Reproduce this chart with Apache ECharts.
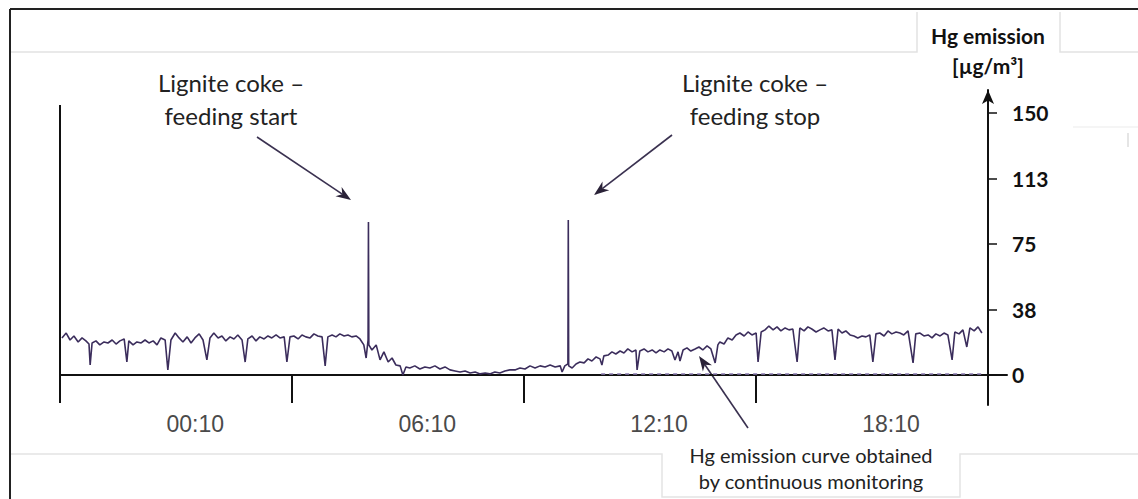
<!DOCTYPE html>
<html><head><meta charset="utf-8">
<script src="https://cdn.jsdelivr.net/npm/echarts@6/dist/echarts.min.js"></script>
<style>html,body{margin:0;padding:0;background:#fff}#c{width:1138px;height:499px}</style>
</head><body><div id="c"></div>
<script>
// Hg emission readings: [hours relative to 00:10, µg/m³]
const hgReadings = [[-3.45,21.2],[-3.34,24.0],[-3.24,20.0],[-3.14,22.3],[-3.03,18.9],[-2.93,21.2],[-2.83,19.5],[-2.75,17.7],[-2.72,5.7],[-2.67,18.3],[-2.57,19.5],[-2.47,17.2],[-2.36,18.9],[-2.26,18.3],[-2.15,20.0],[-2.05,17.7],[-1.95,19.5],[-1.84,20.6],[-1.77,7.4],[-1.72,19.5],[-1.61,17.2],[-1.51,18.9],[-1.40,18.3],[-1.30,20.0],[-1.20,18.3],[-1.09,19.5],[-0.99,17.2],[-0.89,21.2],[-0.78,20.0],[-0.71,2.9],[-0.63,20.0],[-0.52,24.0],[-0.42,21.2],[-0.32,18.9],[-0.21,21.8],[-0.11,18.3],[-0.01,21.2],[0.10,23.5],[0.20,20.0],[0.30,8.6],[0.38,21.2],[0.48,24.0],[0.59,21.2],[0.69,22.3],[0.79,19.5],[0.90,21.8],[1.00,20.6],[1.10,22.9],[1.21,20.0],[1.29,7.4],[1.36,20.6],[1.47,22.3],[1.57,19.5],[1.67,21.8],[1.78,20.6],[1.88,22.3],[1.98,21.2],[2.09,22.9],[2.19,21.2],[2.30,21.8],[2.37,7.4],[2.45,21.8],[2.55,22.3],[2.66,20.6],[2.76,22.9],[2.86,21.8],[2.97,21.2],[3.07,23.5],[3.17,22.3],[3.28,21.8],[3.36,5.2],[3.43,21.8],[3.54,22.9],[3.64,21.8],[3.74,23.5],[3.85,22.3],[3.95,22.9],[4.05,21.8],[4.16,22.3],[4.26,20.6],[4.36,17.2],[4.42,9.7],[4.47,20.0],[4.48,87.6],[4.49,17.2],[4.57,14.3],[4.68,17.2],[4.78,8.6],[4.88,13.2],[4.99,7.4],[5.09,9.7],[5.19,5.7],[5.30,5.2],[5.37,0],[5.45,4.6],[5.55,4.0],[5.68,5.2],[5.81,3.4],[5.94,4.6],[6.07,4.0],[6.20,5.2],[6.33,3.4],[6.46,4.6],[6.59,2.9],[6.72,2.3],[6.85,1.7],[6.98,2.3],[7.11,1.1],[7.24,1.7],[7.37,0.6],[7.50,1.1],[7.62,0.6],[7.75,1.7],[7.88,1.1],[8.01,2.3],[8.14,2.9],[8.27,2.9],[8.40,4.0],[8.53,3.4],[8.66,5.2],[8.79,4.0],[8.92,5.2],[9.05,4.6],[9.18,5.7],[9.31,4.6],[9.44,5.2],[9.49,1.7],[9.56,5.2],[9.64,6.3],[9.65,88.7],[9.66,5.2],[9.75,4.0],[9.85,6.3],[9.95,7.4],[10.06,6.9],[10.16,9.2],[10.26,8.0],[10.37,10.3],[10.47,9.2],[10.52,5.7],[10.57,10.9],[10.68,11.4],[10.78,13.2],[10.88,12.0],[10.99,13.7],[11.09,12.6],[11.19,14.9],[11.30,13.2],[11.40,14.3],[11.43,2.9],[11.50,13.7],[11.61,14.9],[11.71,13.2],[11.82,14.3],[11.92,12.6],[12.02,14.3],[12.13,13.2],[12.23,14.9],[12.33,13.7],[12.41,8.6],[12.49,13.2],[12.54,8.0],[12.62,14.3],[12.72,15.5],[12.82,13.7],[12.93,14.9],[13.03,16.0],[13.13,14.3],[13.24,16.6],[13.34,14.9],[13.45,6.9],[13.52,17.2],[13.57,18.9],[13.68,17.7],[13.78,21.2],[13.89,20.0],[13.99,22.9],[14.09,24.0],[14.20,22.3],[14.30,24.6],[14.40,22.9],[14.51,24.0],[14.56,7.4],[14.64,24.6],[14.74,25.8],[14.84,28.0],[14.95,25.8],[15.05,27.5],[15.15,25.2],[15.26,26.9],[15.36,25.8],[15.46,26.3],[15.57,7.4],[15.64,26.9],[15.75,25.2],[15.85,27.5],[15.95,26.3],[16.06,24.6],[16.16,25.8],[16.26,26.9],[16.37,25.2],[16.47,25.8],[16.55,8.6],[16.63,26.3],[16.73,24.0],[16.83,25.2],[16.94,22.9],[17.04,22.3],[17.14,21.2],[17.25,22.3],[17.35,21.8],[17.45,22.9],[17.53,7.4],[17.61,23.5],[17.71,24.0],[17.82,22.3],[17.92,25.2],[18.02,23.5],[18.13,24.6],[18.23,24.0],[18.33,22.9],[18.44,25.2],[18.57,6.9],[18.64,23.5],[18.75,24.0],[18.85,22.3],[18.96,22.9],[19.06,21.2],[19.16,23.5],[19.27,22.3],[19.37,24.0],[19.47,22.9],[19.58,8.6],[19.65,24.6],[19.76,23.5],[19.86,25.8],[19.96,16.0],[20.04,26.9],[20.15,25.2],[20.25,27.5],[20.35,24.0]];

// faint dashed zero trace on the right half
const zeroTrace = [[10.5,0.6],[20.4,0.6]];
// left frame line of the plot
const leftFrame = [[-3.5,-16],[-3.5,154.5]];

const xTickLabels = ['00:10','06:10','12:10','18:10'];
const xLabelHours = [0,6,12,18];
const xDividerHours = [-3.5,2.5,8.5,14.5,20.5];
const yTickValues = [0,37.5,75,112.5,150];

const yAxisTitle = ['Hg emission','[µg/m³]'];
const startNote = ['Lignite coke –','feeding start'];
const stopNote = ['Lignite coke –','feeding stop'];
const curveNote = ['Hg emission curve obtained','by continuous monitoring'];

function arrow(x1,y1,x2,y2){
  const a = Math.atan2(y2-y1,x2-x1), L=15, W=5.5;
  const bx = x2-L*Math.cos(a), by = y2-L*Math.sin(a);
  const px = -Math.sin(a)*W, py = Math.cos(a)*W;
  return [
    {type:'line',shape:{x1:x1,y1:y1,x2:bx+ (x2-bx)*0.3,y2:by+(y2-by)*0.3},style:{stroke:'#3a3150',lineWidth:1.6}},
    {type:'polygon',shape:{points:[[x2,y2],[bx+px,by+py],[bx+(x2-bx)*0.3,by+(y2-by)*0.3],[bx-px,by-py]]},style:{fill:'#2a2238'}}
  ];
}
function txt(s,x,y,size,weight,color){
  return {type:'text',x:x,y:y,style:{text:s,textAlign:'center',textVerticalAlign:'middle',
    font:(weight||'normal')+' '+size+'px Lato, "Open Sans", sans-serif',fill:color||'#222'}};
}

const chart = echarts.init(document.getElementById('c'),null,{renderer:'svg'});
chart.setOption({
  animation:false,
  backgroundColor:'#fff',
  grid:{left:60,right:131,top:90,bottom:94,containLabel:false},
  xAxis:{type:'value',min:-3.5,max:21,splitLine:{show:false},
    axisLine:{onZero:true,lineStyle:{color:'#111',width:2}},
    axisTick:{show:true,customValues:xDividerHours,length:28,lineStyle:{color:'#111',width:2}},
    axisLabel:{customValues:xLabelHours,margin:7,fontFamily:'"Liberation Sans", Arial, sans-serif',fontSize:23,color:'#4a4a4a',
      formatter:function(v){const i=xLabelHours.indexOf(v);return i>=0?xTickLabels[i]:'';}}
  },
  yAxis:{type:'value',position:'right',offset:-19,min:-17.2,max:163.1,splitLine:{show:false},
    axisLine:{show:true,onZero:false,symbol:['none','arrow'],symbolSize:[9,14],lineStyle:{color:'#111',width:2}},
    axisTick:{show:true,customValues:yTickValues,length:9,lineStyle:{color:'#111',width:1.5}},
    axisLabel:{customValues:yTickValues,margin:24,fontFamily:'Lato, sans-serif',fontWeight:'bold',fontSize:21,color:'#111',
      formatter:function(v){return String(Math.round(v));}}
  },
  series:[
    {type:'line',data:hgReadings,showSymbol:false,symbol:'none',lineStyle:{color:'#3b2d5c',width:1.6},z:3},
    {type:'line',data:zeroTrace,showSymbol:false,symbol:'none',lineStyle:{color:'#8a7bb0',width:1.5,type:[4,4]},z:2},
    {type:'line',data:leftFrame,showSymbol:false,symbol:'none',lineStyle:{color:'#111',width:2},z:2}
  ],
  graphic:[].concat(
    [
      {type:'line',shape:{x1:10,y1:9,x2:1138,y2:9},style:{stroke:'#222',lineWidth:2}},
      {type:'line',shape:{x1:10,y1:9,x2:10,y2:499},style:{stroke:'#222',lineWidth:2}},
      {type:'polyline',shape:{points:[[11,52],[917,52],[917,12]]},style:{stroke:'#e2e2e2',lineWidth:1.5,fill:null}},
      {type:'polyline',shape:{points:[[1060,12],[1060,52],[1138,52]]},style:{stroke:'#e2e2e2',lineWidth:1.5,fill:null}},
      {type:'polyline',shape:{points:[[11,454],[662,454],[662,497],[960,497],[960,454],[1138,454]]},style:{stroke:'#e4e4e4',lineWidth:1.5,fill:null}},
      {type:'line',shape:{x1:1073,y1:127,x2:1138,y2:127},style:{stroke:'#f2f2f2',lineWidth:1.5}},
      {type:'line',shape:{x1:1128,y1:133,x2:1128,y2:147},style:{stroke:'#dddddd',lineWidth:1.5}},
      txt(yAxisTitle[0],988,35,21,'bold','#111'),
      txt(yAxisTitle[1],988,65,21,'bold','#111'),
      txt(startNote[0],231,82,24,'normal','#222'),
      txt(startNote[1],231,115,24,'normal','#222'),
      txt(stopNote[0],755,82,24,'normal','#222'),
      txt(stopNote[1],755,115,24,'normal','#222'),
      txt(curveNote[0],811,455,20,'normal','#222'),
      txt(curveNote[1],811,481,20,'normal','#222')
    ],
    arrow(257,137,351,200),
    arrow(672,135,594,195),
    arrow(748,428,699,356)
  )
});
</script></body></html>
